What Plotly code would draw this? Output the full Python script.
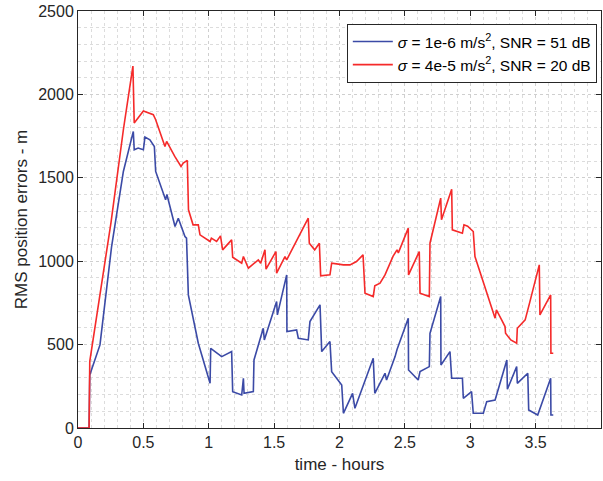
import plotly.graph_objects as go

# time (hours) and RMS position errors (m)
t_blue = [0, 0.085, 0.09, 0.168, 0.257, 0.347, 0.423, 0.43, 0.46, 0.50, 0.512, 0.55, 0.584, 0.594,
          0.67, 0.68, 0.742, 0.767, 0.818, 0.83, 0.844, 0.92, 1.01, 1.015, 1.099, 1.175, 1.183, 1.252,
          1.265, 1.27, 1.341, 1.346, 1.417, 1.425, 1.519, 1.525, 1.596, 1.598, 1.672, 1.685, 1.761,
          1.774, 1.851, 1.864, 1.927, 1.94, 2.017, 2.03, 2.10, 2.118, 2.258, 2.27, 2.348, 2.36, 2.425,
          2.44, 2.526, 2.528, 2.602, 2.616, 2.687, 2.692, 2.774, 2.776, 2.845, 2.858, 2.94, 2.947,
          3.01, 3.023, 3.10, 3.126, 3.19, 3.28, 3.284, 3.355, 3.36, 3.44, 3.447, 3.516, 3.615, 3.617, 3.635]
v_blue = [0, 0, 318, 498, 1088, 1538, 1778, 1668, 1678, 1668, 1744, 1728, 1688, 1538,
          1368, 1400, 1208, 1258, 1148, 1138, 798, 508, 268, 478, 428, 458, 218, 198,
          298, 208, 218, 408, 598, 528, 758, 678, 918, 578, 588, 538, 528,
          638, 738, 458, 518, 338, 258, 88, 208, 118, 418, 208, 328, 288, 428,
          470, 658, 348, 288, 338, 368, 568, 788, 378, 458, 298, 298, 178,
          218, 88, 88, 158, 168, 408, 232, 368, 268, 328, 108, 78, 298, 78, 78]

t_red = [0, 0.085, 0.09, 0.252, 0.347, 0.42, 0.43, 0.50, 0.576, 0.594, 0.665, 0.678, 0.74, 0.788,
         0.805, 0.836, 0.845, 0.88, 0.92, 0.933, 1.01, 1.02, 1.06, 1.09, 1.106, 1.175, 1.183, 1.252,
         1.265, 1.303, 1.379, 1.397, 1.43, 1.438, 1.514, 1.519, 1.583, 1.596, 1.761, 1.769, 1.81,
         1.846, 1.856, 1.927, 1.94, 2.03, 2.08, 2.13, 2.18, 2.195, 2.258, 2.27, 2.31, 2.348, 2.41,
         2.44, 2.45, 2.526, 2.528, 2.61, 2.616, 2.687, 2.692, 2.774, 2.78, 2.858, 2.863, 2.94, 2.952,
         2.98, 3.023, 3.036, 3.19, 3.2, 3.24, 3.266, 3.27, 3.31, 3.355, 3.36, 3.42, 3.44, 3.45, 3.528,
         3.533, 3.615, 3.617, 3.635]
v_red = [0, 0, 400, 1230, 1788, 2170, 1828, 1900, 1878, 1848, 1688, 1718, 1628, 1568,
         1588, 1604, 1308, 1218, 1218, 1158, 1118, 1138, 1118, 1152, 1068, 1128, 1024, 988,
         1028, 958, 1008, 988, 1068, 952, 1058, 928, 1028, 1008, 1258, 1108, 1068,
         1108, 912, 918, 988, 978, 978, 998, 1038, 808, 788, 852, 868, 918, 1030,
         1068, 1050, 1198, 918, 1058, 808, 788, 1108, 1378, 1248, 1432, 1188, 1168, 1218,
         1210, 1178, 1028, 658, 708, 648, 608, 568, 528, 508, 598, 648, 700, 738, 978,
         678, 798, 448, 448]

x_ticks = [0, 0.5, 1, 1.5, 2, 2.5, 3, 3.5, 4]
x_tick_labels = ["0", "0.5", "1", "1.5", "2", "2.5", "3", "3.5", "4"]
y_ticks = [0, 500, 1000, 1500, 2000, 2500]
y_tick_labels = ["0", "500", "1000", "1500", "2000", "2500"]

name_blue = "<i>σ</i> = 1e-6 m/s<sup>2</sup>, SNR = 51 dB"
name_red = "<i>σ</i> = 4e-5 m/s<sup>2</sup>, SNR = 20 dB"

fig = go.Figure()
fig.add_trace(go.Scatter(x=t_blue, y=v_blue, mode="lines", name=name_blue,
                         line=dict(color="#3b4aa6", width=1.6)))
fig.add_trace(go.Scatter(x=t_red, y=v_red, mode="lines", name=name_red,
                         line=dict(color="#f52a2a", width=1.6)))

axis_common = dict(
    showline=True, linecolor="#262626", linewidth=1, mirror="ticks",
    ticks="inside", ticklen=5, tickcolor="#262626",
    showgrid=True, gridcolor="#cfcfcf", griddash="dot", gridwidth=1,
    zeroline=False,
    tickfont=dict(family="Liberation Sans, Arial", size=16, color="#262626"),
)

fig.update_xaxes(range=[0, 4], tickvals=x_ticks, ticktext=x_tick_labels,
                 minor=dict(dtick=0.1, showgrid=True, gridcolor="#dcdcdc", griddash="dot", ticks=""),
                 title=dict(text="time - hours", standoff=7,
                            font=dict(family="Liberation Sans, Arial", size=17, color="#262626")),
                 **axis_common)
fig.update_yaxes(range=[0, 2500], tickvals=y_ticks, ticktext=y_tick_labels,
                 minor=dict(dtick=100, showgrid=True, gridcolor="#dcdcdc", griddash="dot", ticks=""),
                 title=dict(text="RMS position errors - m", standoff=6,
                            font=dict(family="Liberation Sans, Arial", size=17, color="#262626")),
                 **axis_common)

fig.update_layout(
    width=603, height=481,
    margin=dict(l=78, r=2, t=11, b=53),
    paper_bgcolor="white", plot_bgcolor="white",
    legend=dict(x=0.992, y=0.969, xanchor="right", yanchor="top",
                bgcolor="white", bordercolor="#262626", borderwidth=1,
                font=dict(family="Liberation Sans, Arial", size=15.5, color="#000000"),
                tracegroupgap=0, itemwidth=40),
    showlegend=True,
)

fig.write_html("out.html")
